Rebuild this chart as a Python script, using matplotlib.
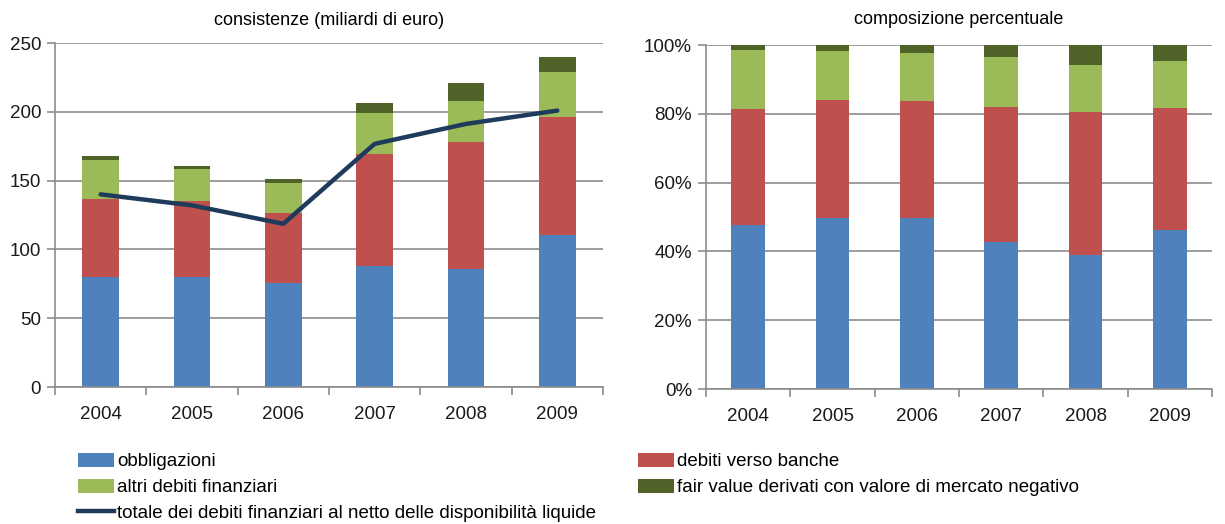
import matplotlib
matplotlib.use("Agg")
import matplotlib.pyplot as plt
import numpy as np
from matplotlib.patches import Patch
from matplotlib.lines import Line2D
from matplotlib.ticker import FuncFormatter, FixedLocator

plt.rcParams['font.family'] = ['Liberation Sans Narrow', 'Liberation Sans', 'DejaVu Sans']

years = ['2004', '2005', '2006', '2007', '2008', '2009']
obbligazioni = [80.1, 80.1, 75.5, 88.1, 85.9, 110.8]
debiti_banche = [56.2, 54.9, 51.3, 81.3, 92.0, 85.2]
altri_debiti = [28.8, 23.3, 21.3, 29.8, 30.0, 32.7]
fair_value = [2.6, 2.6, 3.4, 7.5, 13.1, 11.4]
totale_netto = [140, 132, 118.6, 176.7, 191.2, 200.9]

series_names = ['obbligazioni', 'debiti verso banche', 'altri debiti finanziari',
                'fair value derivati con valore di mercato negativo']
line_name = 'totale dei debiti finanziari al netto delle disponibilità liquide'
title_left = 'consistenze (miliardi di euro)'
title_right = 'composizione percentuale'

colors = ['#4F81BD', '#C0504D', '#9BBB59', '#4F6228']
line_color = '#1F3B5C'
grid_color = '#8C8C8C'

W, H = 1225, 524
fig = plt.figure(figsize=(W / 100, H / 100), dpi=100)

def add_ax(x0, y0, x1, y1):
    return fig.add_axes([x0 / W, 1 - y1 / H, (x1 - x0) / W, (y1 - y0) / H])

axL = add_ax(55, 43, 603, 387)
axR = add_ax(706, 45, 1212, 389)

data = np.array([obbligazioni, debiti_banche, altri_debiti, fair_value])
x = np.arange(len(years))
bw = 0.4

def style(ax):
    for s in ['top', 'right']:
        ax.spines[s].set_visible(False)
    for s in ['left', 'bottom']:
        ax.spines[s].set_color(grid_color)
        ax.spines[s].set_linewidth(1.2)
    ax.set_axisbelow(True)
    ax.yaxis.grid(True, color=grid_color, linewidth=1.2)
    ax.set_xlim(-0.5, len(years) - 0.5)
    ax.xaxis.set_major_locator(FixedLocator(np.arange(-0.5, len(years), 1.0)))
    ax.xaxis.set_major_formatter(FuncFormatter(lambda v, p: ''))
    ax.xaxis.set_minor_locator(FixedLocator(x))
    ax.set_xticklabels(years, minor=True)
    ax.tick_params(axis='x', which='major', length=6, color=grid_color, width=1.2, direction='out')
    ax.tick_params(axis='x', which='minor', length=0, pad=14, labelsize=13.5, labelcolor='#1a1a1a')
    ax.tick_params(axis='y', length=6, color=grid_color, width=1.2, labelsize=13.5, labelcolor='#1a1a1a', pad=4)

# Left
bottom = np.zeros(len(years))
for i in range(4):
    axL.bar(x, data[i], bw, bottom=bottom, color=colors[i], edgecolor='none', zorder=2)
    bottom += data[i]
axL.plot(x, totale_netto, color=line_color, linewidth=3.2, zorder=3, solid_capstyle='round')
axL.set_ylim(0, 250)
axL.set_yticks([0, 50, 100, 150, 200, 250])
style(axL)
axL.set_title(title_left, fontsize=13, pad=13)

# Right (percent composition)
totals = data.sum(axis=0)
pct = data / totals
bottom = np.zeros(len(years))
for i in range(4):
    axR.bar(x, pct[i], bw, bottom=bottom, color=colors[i], edgecolor='none', zorder=2)
    bottom += pct[i]
axR.set_ylim(0, 1)
axR.set_yticks([0, 0.2, 0.4, 0.6, 0.8, 1.0])
axR.yaxis.set_major_formatter(FuncFormatter(lambda v, p: f'{v*100:.0f}%'))
style(axR)
axR.set_title(title_right, fontsize=13, pad=15)

# Legends
h1 = [Patch(facecolor=colors[0]), Patch(facecolor=colors[2]),
      Line2D([0], [0], color=line_color, linewidth=3.2)]
l1 = [series_names[0], series_names[2], line_name]
h2 = [Patch(facecolor=colors[1]), Patch(facecolor=colors[3])]
l2 = [series_names[1], series_names[3]]

kw = dict(frameon=False, fontsize=13.5, handlelength=1.9, handleheight=0.75,
          handletextpad=0.2, labelspacing=0.45, borderaxespad=0, borderpad=0)
fig.legend(h1, l1, loc='upper left', bbox_to_anchor=(78 / W, 1 - 453 / H), **kw)
fig.legend(h2, l2, loc='upper left', bbox_to_anchor=(638 / W, 1 - 453 / H), **kw)

fig.savefig('out.png', dpi=100)
